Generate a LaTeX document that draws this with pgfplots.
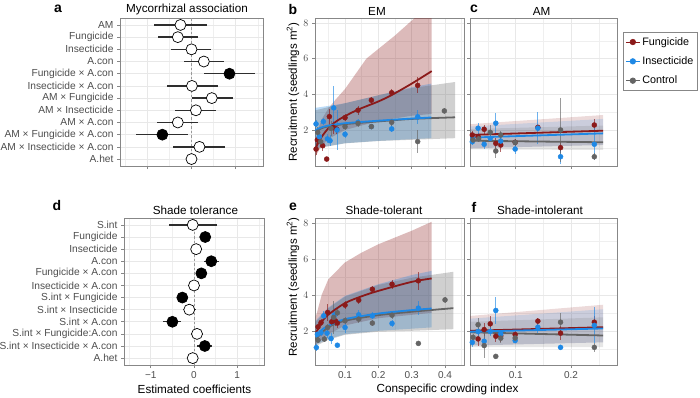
\documentclass[border=0pt]{standalone}
\usepackage{pgfplots}
\pgfplotsset{compat=1.18}
\usepackage{fontspec}
\setmainfont{Liberation Sans}
\definecolor{fung}{RGB}{139,26,26}
\definecolor{insect}{RGB}{30,136,229}
\definecolor{ctrl}{RGB}{100,100,100}
\definecolor{gridc}{RGB}{232,232,232}
\definecolor{tickc}{RGB}{77,77,77}
\definecolor{framec}{RGB}{135,135,135}
\pgfplotsset{
  base/.style={scale only axis, anchor=south west,
    axis line style={draw=framec, line width=0.7pt},
    every tick/.style={draw=framec, line width=0.6pt},
    tick align=outside, major tick length=3pt, minor tick length=0pt,
    xtick pos=left, ytick pos=left,
    grid=both, major grid style={draw=gridc, line width=0.6pt},
    minor grid style={draw=gridc!70, line width=0.4pt},
    tick label style={font=\fontsize{10}{12}\selectfont, text=tickc},
  },
  coef/.style={base, xmin=-1.62, xmax=1.62, ymin=0.43, ymax=12.57, y dir=reverse,
    ytick={1,...,12}, xtick={-1,0,1}, minor xtick={-1.5,-0.5,0.5,1.5},
    yticklabel style={font=\fontsize{10.2}{12}\selectfont}},
  recb/.style={base, xmin=0.0099, xmax=0.457, xtick={0.1,0.2,0.3,0.4},
    minor xtick={0.05,0.15,0.25,0.35,0.45}, ytick={2,4,6,8}, minor ytick={1,3,5,7}},
  recc/.style={base, xmin=0.0174, xmax=0.283, xtick={0.1,0.2},
    minor xtick={0.05,0.15,0.25}, ytick={2,4,6,8}, minor ytick={1,3,5,7}, yticklabels={}},
  ci/.style={only marks, mark=*, mark size=5.5pt,
    error bars/x dir=both, error bars/x explicit,
    error bars/error bar style={line width=1.4pt, color=black!82}, error bars/error mark=none},
  pts/.style={only marks, mark=*, mark size=2.5pt, color=#1,
    error bars/y dir=both, error bars/y explicit,
    error bars/error bar style={line width=0.9pt, color=#1, opacity=0.65}, error bars/error mark=none},
  rib/.style={fill=#1, draw=none, fill opacity=0.3, forget plot},
  ribl/.style={fill=#1, draw=none, fill opacity=0.16, forget plot},
  fit/.style={color=#1, line width=1.8pt, smooth, forget plot},
}
\begin{document}
\begin{tikzpicture}
\useasboundingbox (0pt,0pt) rectangle (700pt,397pt);

% ---------------- panel a
\begin{axis}[coef, at={(120pt,231pt)}, width=143pt, height=148pt, xticklabels={},
  yticklabels={AM,Fungicide,Insecticide,A.con,Fungicide × A.con,Insecticide × A.con,AM × Fungicide,AM × Insecticide,AM × A.con,AM × Fungicide × A.con,AM × Insecticide × A.con,A.het}]
\addplot[draw=black!40, dash pattern=on 2.5pt off 2pt, line width=0.6pt] coordinates {(0,0.43) (0,12.57)};
\addplot[ci, mark options={fill=white, draw=black, line width=0.7pt}] table[x=x, y=y, x error plus=ep, x error minus=em] {
x y ep em
-0.25 1 0.61 0.60
-0.31 2 0.46 0.45
0.00 3 0.45 0.46
0.28 4 0.46 0.45
0.01 6 0.58 0.56
0.46 7 0.47 0.46
0.10 8 0.46 0.47
-0.31 9 0.46 0.48
0.18 11 0.57 0.59
0.00 12 0.08 0.08
};
\addplot[ci, mark options={fill=black, draw=black, line width=0.7pt}] table[x=x, y=y, x error plus=ep, x error minus=em] {
x y ep em
0.86 5 0.58 0.57
-0.66 10 0.59 0.60
};
\end{axis}

% ---------------- panel d
\begin{axis}[coef, at={(124pt,32pt)}, width=140pt, height=147pt, xticklabels={−1,0,1},
  yticklabels={S.int,Fungicide,Insecticide,A.con,Fungicide × A.con,Insecticide × A.con,S.int × Fungicide,S.int × Insecticide,S.int × A.con,S.int × Fungicide:A.con,S.int × Insecticide × A.con,A.het}]
\addplot[draw=black!40, dash pattern=on 2.5pt off 2pt, line width=0.6pt] coordinates {(0,0.43) (0,12.57)};
\addplot[ci, mark options={fill=white, draw=black, line width=0.7pt}] table[x=x, y=y, x error plus=ep, x error minus=em] {
x y ep em
-0.03 1 0.56 0.56
0.05 3 0.10 0.10
0.00 6 0.06 0.06
-0.11 8 0.15 0.15
0.07 10 0.14 0.14
-0.03 12 0.06 0.06
};
\addplot[ci, mark options={fill=black, draw=black, line width=0.7pt}] table[x=x, y=y, x error plus=ep, x error minus=em] {
x y ep em
0.26 2 0.08 0.08
0.40 4 0.18 0.18
0.17 5 0.11 0.11
-0.27 7 0.13 0.13
-0.50 9 0.21 0.21
0.25 11 0.17 0.17
};
\end{axis}

% ---------------- panel b
\begin{axis}[recb, at={(315pt,231pt)}, width=149pt, height=148pt, ymin=-0.02, ymax=8.28, xticklabels={}]
\addplot[rib=fung] coordinates {(0.01,1.3) (0.02,2.1) (0.03,2.6) (0.05,3.2) (0.07,3.67) (0.1,4.3) (0.164,6.0) (0.25,7.3) (0.31,8.3) (0.36,9.0)
 (0.36,2.9) (0.3,2.8) (0.2,2.5) (0.1,2.0) (0.05,1.5) (0.03,1.1) (0.01,0.5)} -- cycle;
\addplot[rib=insect] coordinates {(0.01,3.24) (0.05,3.35) (0.1,3.5) (0.2,3.94) (0.3,4.4) (0.359,4.6)
 (0.359,1.54) (0.2,1.39) (0.1,1.26) (0.01,0.98)} -- cycle;
\addplot[rib=ctrl] coordinates {(0.01,3.1) (0.1,3.5) (0.2,3.95) (0.3,4.35) (0.43,4.69)
 (0.43,1.54) (0.3,1.45) (0.2,1.38) (0.1,1.25) (0.01,0.95)} -- cycle;
\addplot[pts=fung] table[x=x,y=y,y error=e] {
x y e
0.013 0.93 0.35
0.017 1.44 0.35
0.033 1.12 0.30
0.045 0.37 0.10
0.053 2.75 0.45
0.065 2.15 0.35
0.075 2.05 0.30
0.100 2.69 0.20
0.139 3.11 0.25
0.179 3.67 0.20
0.240 4.09 0.20
0.318 4.50 0.45
};
\addplot[pts=insect] table[x=x,y=y,y error=e] {
x y e
0.013 2.34 0.20
0.023 1.62 0.30
0.035 2.47 0.20
0.047 1.50 0.25
0.055 1.40 0.30
0.066 3.24 1.20
0.076 2.00 1.10
0.100 1.76 0.20
0.139 2.43 0.20
0.179 2.19 0.15
0.240 2.06 0.20
0.318 2.74 0.40
};
\addplot[pts=ctrl] table[x=x,y=y,y error=e] {
x y e
0.018 1.87 0.30
0.027 1.34 0.30
0.058 2.09 0.40
0.100 2.19 0.20
0.139 2.37 0.20
0.179 2.19 0.15
0.240 2.43 0.20
0.318 1.35 0.65
0.398 3.07 0.15
};
\addplot[fit=fung] coordinates {(0.01,0.85) (0.02,1.3) (0.035,1.75) (0.055,2.2) (0.075,2.5) (0.1,2.78) (0.14,3.15) (0.2,3.6) (0.24,3.96) (0.3,4.6) (0.36,5.3)};
\addplot[fit=ctrl] coordinates {(0.01,1.9) (0.03,2.1) (0.05,2.2) (0.1,2.33) (0.2,2.48) (0.3,2.62) (0.43,2.71)};
\addplot[fit=insect] coordinates {(0.01,1.95) (0.02,2.08) (0.03,2.15) (0.05,2.25) (0.1,2.38) (0.2,2.52) (0.3,2.64) (0.359,2.7)};
\end{axis}

% ---------------- panel c
\begin{axis}[recc, at={(470pt,231pt)}, width=147pt, height=148pt, ymin=-0.02, ymax=8.28, xticklabels={},
  legend style={at={(1.041,0.905)}, anchor=north west, draw=framec, line width=0.6pt,
    font=\fontsize{10.8}{12}\selectfont, inner xsep=2pt, inner ysep=3pt, row sep=6pt},
  legend cell align=left,
  legend image code/.code={\draw[#1, line width=1pt] (0pt,0pt) -- (14pt,0pt); \fill[#1] (7pt,0pt) circle (2.8pt);}]
\addlegendimage{fung}\addlegendentry{Fungicide}
\addlegendimage{insect}\addlegendentry{Insecticide}
\addlegendimage{ctrl}\addlegendentry{Control}
\addplot[ribl=fung] coordinates {(0.015,2.32) (0.258,2.84) (0.258,1.16) (0.015,0.97)} -- cycle;
\addplot[ribl=insect] coordinates {(0.015,2.19) (0.258,2.62) (0.258,1.16) (0.015,0.97)} -- cycle;
\addplot[ribl=ctrl] coordinates {(0.015,2.05) (0.258,2.25) (0.258,0.88) (0.015,0.91)} -- cycle;
\addplot[pts=fung, forget plot] table[x=x,y=y,y error=e] {
x y e
0.0215 1.72 0.20
0.032 1.62 0.20
0.043 2.04 0.25
0.064 1.25 0.30
0.073 1.16 0.40
0.099 1.31 0.20
0.140 2.15 0.15
0.181 1.01 0.30
0.242 2.28 0.35
};
\addplot[pts=insect, forget plot] table[x=x,y=y,y error=e] {
x y e
0.0215 1.34 0.20
0.032 2.10 0.30
0.043 1.20 0.25
0.054 1.53 0.20
0.064 2.38 0.60
0.073 1.38 0.30
0.099 0.93 0.25
0.140 2.10 0.90
0.181 0.50 0.40
0.242 1.20 0.90
};
\addplot[pts=ctrl, forget plot] table[x=x,y=y,y error=e] {
x y e
0.023 1.44 0.20
0.033 1.50 0.20
0.054 1.87 0.40
0.064 0.82 0.40
0.073 1.72 0.25
0.099 1.30 0.20
0.181 2.00 1.80
0.242 0.50 0.20
};
\addplot[fit=ctrl] coordinates {(0.015,1.40) (0.258,1.31)};
\addplot[fit=insect] coordinates {(0.015,1.57) (0.258,1.81)};
\addplot[fit=fung] coordinates {(0.015,1.72) (0.258,1.96)};
\end{axis}

% ---------------- panel e
\begin{axis}[recb, at={(315pt,32pt)}, width=149pt, height=147pt, ymin=0.1, ymax=8.27,
  xticklabels={0.1,0.2,0.3,0.4}]
\addplot[rib=fung] coordinates {(0.012,2.8) (0.016,3.02) (0.03,4.0) (0.05,4.87) (0.1,5.8) (0.15,6.35) (0.2,6.81) (0.3,7.56) (0.36,8.06)
 (0.36,3.0) (0.2,2.7) (0.1,2.3) (0.05,1.8) (0.016,1.3) (0.012,1.2)} -- cycle;
\addplot[rib=insect] coordinates {(0.012,2.55) (0.016,2.65) (0.05,3.3) (0.1,3.94) (0.2,4.59) (0.3,5.1) (0.36,5.33)
 (0.36,2.19) (0.2,2.0) (0.1,1.81) (0.05,1.55) (0.016,1.26) (0.012,1.2)} -- cycle;
\addplot[rib=ctrl] coordinates {(0.012,2.5) (0.05,3.25) (0.1,3.9) (0.2,4.55) (0.3,4.95) (0.425,5.28)
 (0.425,2.09) (0.3,2.0) (0.2,1.95) (0.1,1.78) (0.05,1.5) (0.012,1.15)} -- cycle;
\addplot[pts=fung] table[x=x,y=y,y error=e] {
x y e
0.019 2.22 0.20
0.028 2.46 0.20
0.048 3.02 0.45
0.060 2.50 0.25
0.070 2.56 0.30
0.077 2.43 0.25
0.100 3.43 0.20
0.141 3.70 0.20
0.182 4.31 0.20
0.241 4.59 0.25
0.320 4.78 0.50
};
\addplot[pts=insect] table[x=x,y=y,y error=e] {
x y e
0.014 1.07 0.20
0.017 1.81 0.20
0.028 1.90 0.20
0.036 2.83 0.25
0.046 1.87 0.25
0.058 1.57 0.30
0.068 2.87 0.40
0.077 1.20 0.10
0.100 2.19 0.30
0.141 2.89 0.25
0.182 2.83 0.20
0.241 2.41 0.20
0.320 3.26 0.40
};
\addplot[pts=ctrl] table[x=x,y=y,y error=e] {
x y e
0.019 1.48 0.15
0.038 1.54 0.15
0.048 2.19 0.20
0.066 2.75 0.90
0.077 3.00 0.20
0.100 2.56 0.20
0.141 2.65 0.20
0.182 2.43 0.15
0.241 2.87 0.20
0.320 1.30 0.10
0.400 3.72 0.15
};
\addplot[fit=fung] coordinates {(0.012,1.9) (0.016,2.0) (0.03,2.5) (0.05,2.9) (0.1,3.54) (0.15,3.92) (0.2,4.22) (0.3,4.72) (0.36,4.91)};
\addplot[fit=ctrl] coordinates {(0.012,1.58) (0.016,1.63) (0.05,2.2) (0.1,2.56) (0.2,2.87) (0.3,3.06) (0.425,3.26)};
\addplot[fit=insect] coordinates {(0.012,1.65) (0.016,1.72) (0.03,2.05) (0.05,2.28) (0.1,2.65) (0.2,2.96) (0.3,3.15) (0.36,3.24)};
\end{axis}

% ---------------- panel f
\begin{axis}[recc, at={(470pt,32pt)}, width=147pt, height=147pt, ymin=0.1, ymax=8.27,
  xticklabels={0.1,0.2}]
\addplot[ribl=fung] coordinates {(0.015,2.82) (0.258,3.45) (0.258,1.36) (0.015,1.18)} -- cycle;
\addplot[ribl=insect] coordinates {(0.015,2.67) (0.258,3.2) (0.258,1.36) (0.015,1.18)} -- cycle;
\addplot[ribl=ctrl] coordinates {(0.015,2.5) (0.258,2.75) (0.258,1.1) (0.015,1.1)} -- cycle;
\addplot[pts=fung] table[x=x,y=y,y error=e] {
x y e
0.032 1.55 0.40
0.043 2.07 0.35
0.054 2.39 0.45
0.064 1.70 0.30
0.073 1.72 0.35
0.099 1.79 0.20
0.140 2.54 0.20
0.181 1.87 0.40
0.242 2.48 0.35
};
\addplot[pts=insect] table[x=x,y=y,y error=e] {
x y e
0.0215 1.36 0.25
0.032 1.96 0.30
0.043 1.42 0.30
0.054 1.96 0.25
0.064 3.13 0.75
0.073 1.83 0.20
0.099 1.46 0.15
0.140 2.20 0.30
0.181 1.08 0.15
0.242 2.30 1.00
};
\addplot[pts=ctrl] table[x=x,y=y,y error=e] {
x y e
0.023 1.64 0.20
0.032 2.34 0.40
0.043 1.18 0.70
0.064 0.58 0.15
0.073 1.59 0.25
0.099 1.60 0.20
0.181 2.48 0.50
0.242 1.08 0.25
};
\addplot[fit=ctrl] coordinates {(0.015,1.92) (0.258,1.74)};
\addplot[fit=fung] coordinates {(0.015,2.0) (0.258,2.2)};
\addplot[fit=insect] coordinates {(0.015,1.95) (0.258,2.13)};
\end{axis}

% ---------------- texts
\node[font=\fontsize{14}{16}\selectfont\bfseries] at (58pt,388pt) {a};
\node[font=\fontsize{14}{16}\selectfont\bfseries] at (57pt,192pt) {d};
\node[font=\fontsize{14}{16}\selectfont\bfseries] at (293pt,388pt) {b};
\node[font=\fontsize{14}{16}\selectfont\bfseries] at (474pt,388pt) {c};
\node[font=\fontsize{14}{16}\selectfont\bfseries] at (293pt,190pt) {e};
\node[font=\fontsize{14}{16}\selectfont\bfseries] at (474pt,190pt) {f};
\node[font=\fontsize{11.7}{14}\selectfont] at (187pt,388pt) {Mycorrhizal association};
\node[font=\fontsize{11.7}{14}\selectfont] at (195.5pt,187pt) {Shade tolerance};
\node[font=\fontsize{11.7}{14}\selectfont] at (377pt,386pt) {EM};
\node[font=\fontsize{11.7}{14}\selectfont] at (541.7pt,386pt) {AM};
\node[font=\fontsize{11.7}{14}\selectfont] at (384pt,187pt) {Shade-tolerant};
\node[font=\fontsize{11.7}{14}\selectfont] at (540pt,187pt) {Shade-intolerant};
\node[font=\fontsize{11.5}{14}\selectfont, rotate=90] at (293pt,305pt) {Recruitment (seedlings m\textsuperscript{2})};
\node[font=\fontsize{11.5}{14}\selectfont, rotate=90] at (293pt,110pt) {Recruitment (seedlings m\textsuperscript{2})};
\node[font=\fontsize{11.7}{14}\selectfont] at (194.5pt,8pt) {Estimated coefficients};
\node[font=\fontsize{11.7}{14}\selectfont] at (447.5pt,8pt) {Conspecific crowding index};
\end{tikzpicture}
\end{document}
